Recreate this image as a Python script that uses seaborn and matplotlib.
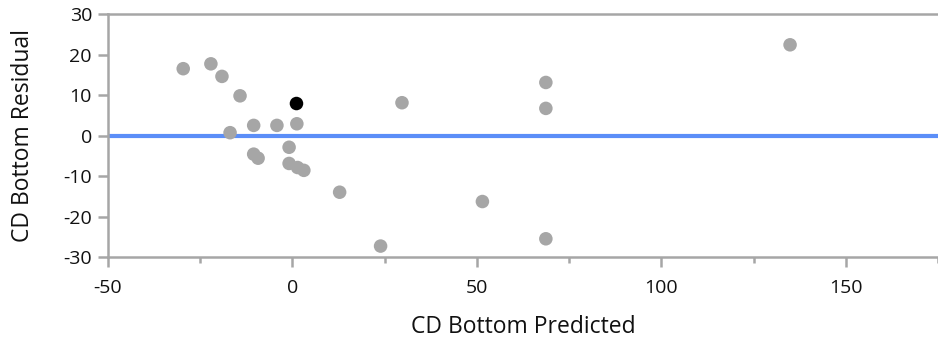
import matplotlib
matplotlib.use("Agg")
import matplotlib.pyplot as plt
import seaborn as sns
import pandas as pd
from matplotlib.ticker import MultipleLocator

# Predicted vs residual values for CD Bottom
predicted = [-29.6, -22.1, -19.1, -14.2, 1.1, -10.5, -4.2, 1.2, -16.9, -0.9,
             -10.5, -9.3, -0.9, 1.4, 3.1, 29.7, 68.7, 68.7, 134.9, 51.5,
             68.7, 23.9, 12.8]
residual = [16.5, 17.7, 14.6, 9.8, 7.9, 2.5, 2.5, 2.9, 0.7, -2.9,
            -4.6, -5.6, -6.9, -7.9, -8.6, 8.1, 13.1, 6.7, 22.4, -16.3,
            -25.5, -27.3, -14.0]
selected = [False, False, False, False, True, False, False, False, False, False,
            False, False, False, False, False, False, False, False, False, False,
            False, False, False]

df = pd.DataFrame({"CD Bottom Predicted": predicted,
                   "CD Bottom Residual": residual,
                   "selected": selected})

sns.set_style("white")
plt.rcParams["font.family"] = ["Open Sans", "DejaVu Sans"]
plt.rcParams["axes.unicode_minus"] = False

fig = plt.figure(figsize=(9.38, 3.42), dpi=100)
ax = fig.add_axes([0.1151, 0.2485, 0.8849, 0.7105])

axis_gray = "#a6a6a6"
text_color = "#111111"

ax.axhline(0, color="#5b8ef8", lw=3.0, zorder=1)

sns.scatterplot(data=df, x="CD Bottom Predicted", y="CD Bottom Residual",
                hue="selected", palette={False: "#a6a6a6", True: "#000000"},
                s=95, linewidth=0, legend=False, ax=ax, zorder=3)

ax.set_xlim(-50, 175)
ax.set_ylim(-30, 30)
ax.xaxis.set_major_locator(MultipleLocator(50))
ax.xaxis.set_minor_locator(MultipleLocator(25))
ax.yaxis.set_major_locator(MultipleLocator(10))

for side in ["left", "bottom", "top"]:
    ax.spines[side].set_visible(True)
    ax.spines[side].set_color(axis_gray)
    ax.spines[side].set_linewidth(1.8)
ax.spines["right"].set_visible(False)

ax.tick_params(axis="both", which="both", bottom=True, left=True,
               top=False, right=False)
ax.tick_params(axis="both", which="major", direction="out", length=7.5,
               width=1.8, color=axis_gray, labelsize=14,
               labelcolor=text_color)
ax.tick_params(axis="x", which="minor", direction="out", length=4,
               width=1.8, color=axis_gray)
ax.tick_params(axis="x", which="major", pad=8)
ax.tick_params(axis="y", which="major", pad=4)

ax.set_xlabel("CD Bottom Predicted", fontsize=16.5, color=text_color,
              va="center")
ax.set_ylabel("CD Bottom Residual", fontsize=16.5, color=text_color,
              va="center")
ax.xaxis.set_label_coords(0.5, -0.287)
ax.yaxis.set_label_coords(-0.1024, 0.5)

fig.savefig("out.png", dpi=100)
